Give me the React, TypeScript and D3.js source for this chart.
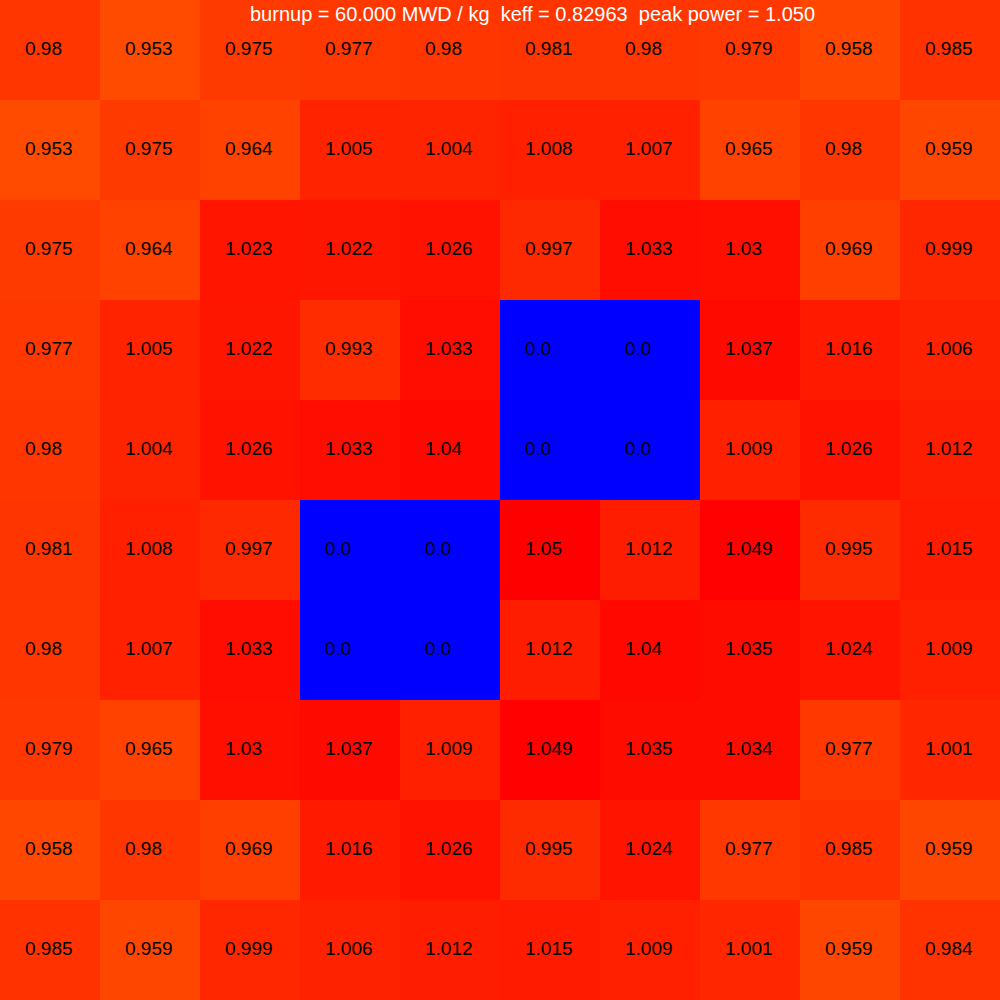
import React, { useRef, useEffect } from "react";
import * as d3 from "d3";

const rows = [0, 1, 2, 3, 4, 5, 6, 7, 8, 9];
const cols = [0, 1, 2, 3, 4, 5, 6, 7, 8, 9];

const powerMap = [
  [0.98, 0.953, 0.975, 0.977, 0.98, 0.981, 0.98, 0.979, 0.958, 0.985],
  [0.953, 0.975, 0.964, 1.005, 1.004, 1.008, 1.007, 0.965, 0.98, 0.959],
  [0.975, 0.964, 1.023, 1.022, 1.026, 0.997, 1.033, 1.03, 0.969, 0.999],
  [0.977, 1.005, 1.022, 0.993, 1.033, 0.0, 0.0, 1.037, 1.016, 1.006],
  [0.98, 1.004, 1.026, 1.033, 1.04, 0.0, 0.0, 1.009, 1.026, 1.012],
  [0.981, 1.008, 0.997, 0.0, 0.0, 1.05, 1.012, 1.049, 0.995, 1.015],
  [0.98, 1.007, 1.033, 0.0, 0.0, 1.012, 1.04, 1.035, 1.024, 1.009],
  [0.979, 0.965, 1.03, 1.037, 1.009, 1.049, 1.035, 1.034, 0.977, 1.001],
  [0.958, 0.98, 0.969, 1.016, 1.026, 0.995, 1.024, 0.977, 0.985, 0.959],
  [0.985, 0.959, 0.999, 1.006, 1.012, 1.015, 1.009, 1.001, 0.959, 0.984],
];

const burnup = 60.0;
const keff = 0.82963;
const peakPower = 1.05;

const App = () => {
  const ref = useRef<SVGSVGElement>(null);

  useEffect(() => {
    const width = 1000;
    const height = 1000;

    const svg = d3.select(ref.current).attr("width", width).attr("height", height);
    svg.selectAll("*").remove();

    const x = d3.scaleBand<number>().domain(cols).range([0, width]);
    const y = d3.scaleBand<number>().domain(rows).range([0, height]);
    const color = d3
      .scaleLinear<string>()
      .domain([0.953, 1.05])
      .range(["rgb(255,75,0)", "rgb(255,0,0)"])
      .clamp(true);

    const cells = powerMap.flatMap((row, r) => row.map((v, c) => ({ r, c, v })));

    const g = svg.selectAll("g.cell").data(cells).enter().append("g").attr("class", "cell");

    g.append("rect")
      .attr("x", (d) => x(d.c)!)
      .attr("y", (d) => y(d.r)!)
      .attr("width", x.bandwidth())
      .attr("height", y.bandwidth())
      .attr("fill", (d) => (d.v === 0 ? "#0000ff" : color(d.v)));

    g.append("text")
      .attr("x", (d) => x(d.c)! + 25)
      .attr("y", (d) => y(d.r)! + 55)
      .style("font-family", "'Liberation Sans', Arial, sans-serif")
      .style("font-size", "19px")
      .style("fill", "#000")
      .text((d) => (d.v === 0 ? "0.0" : String(d.v)));

    svg
      .append("text")
      .attr("x", 250)
      .attr("y", 21)
      .style("font-family", "'Liberation Sans', Arial, sans-serif")
      .style("font-size", "20px")
      .style("fill", "#fff")
      .style("white-space", "pre")
      .text(
        `burnup = ${burnup.toFixed(3)} MWD / kg  keff = ${keff.toFixed(5)}  peak power = ${peakPower.toFixed(3)}`
      );
  }, []);

  return (
    <div style={{ position: "absolute", left: 0, top: 0 }}>
      <svg ref={ref} style={{ display: "block" }}></svg>
    </div>
  );
};

export default App;
